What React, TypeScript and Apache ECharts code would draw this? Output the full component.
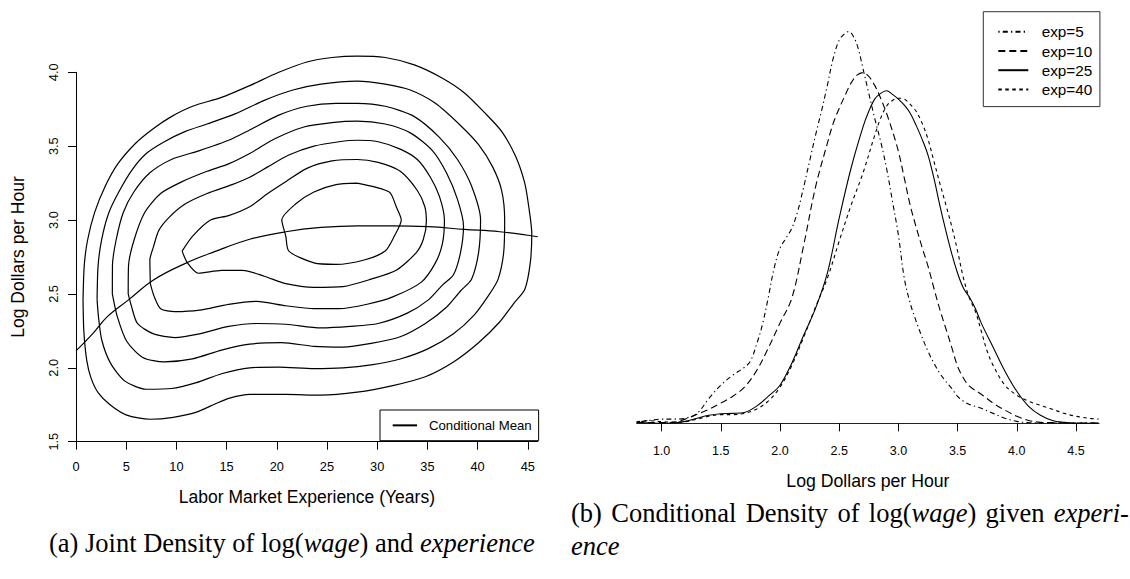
import React, { useEffect, useRef } from "react";
import * as echarts from "echarts";

// ---------- Left panel: joint density contours (experience, log wage) ----------
const contour1: number[][] = [
  [0.7, 2.46], [0.82, 2.69], [1.14, 2.86], [1.85, 3.05], [2.92, 3.23], [4.16, 3.38], [5.94, 3.52],
  [7.72, 3.62], [9.5, 3.7], [11.6, 3.77], [14.5, 3.83], [17.3, 3.91], [20.2, 4.0], [23.0, 4.07],
  [25.5, 4.1], [28.0, 4.11], [30.8, 4.1], [33.7, 4.05], [36.5, 3.96], [38.7, 3.86], [40.8, 3.72],
  [42.4, 3.6], [43.8, 3.43], [44.7, 3.25], [45.1, 3.09], [45.4, 2.91], [45.25, 2.71], [44.7, 2.53],
  [43.65, 2.44], [42.2, 2.31], [40.1, 2.17], [37.6, 2.04], [34.8, 1.94], [31.55, 1.88], [28.0, 1.835],
  [24.4, 1.815], [20.9, 1.82], [17.3, 1.82], [15.3, 1.795], [14.0, 1.76], [12.0, 1.7], [9.69, 1.665],
  [7.37, 1.652], [5.05, 1.68], [3.39, 1.75], [2.22, 1.83], [1.5, 1.93], [1.07, 2.05], [0.78, 2.25],
  [0.7, 2.46],
];
const contour2: number[][] = [
  [2.1, 2.46], [2.2, 2.69], [2.56, 2.87], [3.27, 3.05], [4.34, 3.2], [5.59, 3.34], [7.0, 3.45],
  [8.8, 3.53], [10.9, 3.6], [13.05, 3.65], [15.9, 3.72], [18.75, 3.81], [21.6, 3.88], [24.4, 3.92],
  [28.0, 3.94], [30.8, 3.92], [33.3, 3.88], [35.8, 3.79], [38.3, 3.64], [40.1, 3.51], [41.5, 3.36],
  [42.4, 3.2], [42.7, 3.0], [42.6, 2.78], [42.05, 2.6], [41.2, 2.5], [39.7, 2.36], [37.6, 2.23],
  [35.1, 2.13], [32.3, 2.06], [29.4, 2.02], [26.6, 2.0], [23.7, 1.995], [20.2, 2.005], [17.3, 2.0],
  [14.5, 1.96], [12.0, 1.9], [9.5, 1.86], [7.0, 1.855], [4.87, 1.91], [3.45, 2.03], [2.56, 2.19],
  [2.2, 2.37], [2.1, 2.46],
];
const contour3: number[][] = [
  [3.62, 2.5], [3.63, 2.69], [3.98, 2.86], [4.7, 3.05], [5.76, 3.19], [7.36, 3.32], [9.5, 3.41],
  [12.3, 3.47], [15.2, 3.54], [17.3, 3.61], [20.2, 3.71], [23.0, 3.77], [25.9, 3.79], [28.0, 3.79],
  [30.8, 3.77], [33.7, 3.7], [36.2, 3.56], [38.0, 3.41], [39.4, 3.23], [40.3, 3.0], [40.1, 2.78],
  [39.4, 2.6], [38.3, 2.52], [36.9, 2.41], [34.8, 2.3], [32.3, 2.21], [29.4, 2.165], [26.6, 2.14],
  [23.7, 2.145], [20.5, 2.17], [17.3, 2.16], [14.5, 2.12], [11.6, 2.06], [8.8, 2.04], [6.65, 2.07],
  [5.05, 2.18], [4.1, 2.35], [3.62, 2.5],
];
const contour4: number[][] = [
  [5.2, 2.5], [5.23, 2.69], [5.76, 2.86], [6.83, 3.05], [8.43, 3.18], [10.57, 3.26], [13.06, 3.33],
  [15.2, 3.38], [17.3, 3.45], [19.8, 3.55], [22.7, 3.63], [25.5, 3.66], [28.0, 3.67], [30.8, 3.65],
  [33.3, 3.59], [35.5, 3.47], [36.9, 3.32], [38.0, 3.14], [38.6, 2.96], [38.3, 2.78], [37.6, 2.63],
  [36.5, 2.56], [35.1, 2.46], [33.0, 2.37], [30.1, 2.3], [27.3, 2.28], [24.4, 2.27], [20.9, 2.295],
  [18.0, 2.3], [15.2, 2.28], [12.3, 2.23], [9.85, 2.205], [7.72, 2.23], [6.12, 2.3], [5.51, 2.42],
  [5.2, 2.5],
];
const contour5: number[][] = [
  [7.4, 2.57], [7.36, 2.73], [7.72, 2.82], [8.25, 2.93], [9.3, 3.02], [10.9, 3.11], [13.06, 3.18],
  [15.55, 3.24], [17.3, 3.29], [19.1, 3.36], [21.2, 3.44], [23.7, 3.5], [26.2, 3.53], [28.0, 3.54],
  [30.1, 3.53], [32.3, 3.48], [34.0, 3.41], [35.3, 3.29], [36.2, 3.16], [36.7, 3.0], [36.5, 2.84],
  [35.8, 2.71], [34.4, 2.58], [31.55, 2.48], [29.0, 2.43], [26.2, 2.4], [23.7, 2.4], [20.9, 2.42],
  [18.0, 2.45], [15.2, 2.43], [12.3, 2.39], [9.85, 2.38], [8.43, 2.4], [7.8, 2.48], [7.4, 2.57],
];
const contour6: number[][] = [
  [10.57, 2.79], [11.6, 2.89], [13.4, 3.0], [15.2, 3.03], [17.3, 3.09], [19.1, 3.18], [20.9, 3.26],
  [23.0, 3.35], [25.5, 3.4], [28.0, 3.41], [30.1, 3.39], [32.3, 3.33], [34.0, 3.2], [34.75, 3.09],
  [34.9, 2.99], [34.6, 2.87], [33.9, 2.78], [31.9, 2.66], [29.4, 2.6], [26.6, 2.55], [23.7, 2.545],
  [20.9, 2.57], [18.75, 2.62], [16.6, 2.66], [14.5, 2.66], [12.2, 2.64], [11.1, 2.71], [10.57, 2.79],
];
const contour7: number[][] = [
  [28.0, 3.25], [31.2, 3.19], [31.9, 3.09], [32.4, 3.0], [31.7, 2.89], [30.8, 2.79], [28.7, 2.73],
  [25.9, 2.7], [23.7, 2.71], [21.2, 2.79], [20.9, 2.89], [20.5, 3.0], [21.9, 3.11], [23.7, 3.19],
  [25.9, 3.24], [28.0, 3.25],
];
const contours = [contour1, contour2, contour3, contour4, contour5, contour6, contour7];

const meanExper = [0, 1.67, 3.1, 5.23, 7.72, 10.9, 13.8, 17.3, 20.9, 24.4, 28, 31.55, 35.1, 38.7, 42.2, 46];
const meanLogWage = [2.115, 2.232, 2.345, 2.46, 2.595, 2.707, 2.786, 2.87, 2.921, 2.95, 2.961, 2.961, 2.955, 2.937, 2.921, 2.887];

const expTicks = [0, 5, 10, 15, 20, 25, 30, 35, 40, 45];

// ---------- Right panel: conditional densities of log wage ----------
const densTicks = [1.0, 1.5, 2.0, 2.5, 3.0, 3.5, 4.0, 4.5];

const x5 = [0.79, 0.9, 1.0, 1.1, 1.2, 1.3, 1.4, 1.5, 1.6, 1.7, 1.75, 1.8, 1.85, 1.9, 1.95, 2.0, 2.05, 2.1, 2.15, 2.2, 2.25, 2.3, 2.35, 2.4, 2.45, 2.5, 2.55, 2.58, 2.62, 2.66, 2.7, 2.75, 2.8, 2.85, 2.9, 2.95, 3.0, 3.05, 3.1, 3.15, 3.2, 3.25, 3.3, 3.35, 3.4, 3.45, 3.5, 3.55, 3.6, 3.7, 3.8, 3.9, 4.0, 4.1, 4.3, 4.5, 4.69];
const d5 = [0.003, 0.009, 0.013, 0.013, 0.016, 0.031, 0.078, 0.119, 0.15, 0.175, 0.194, 0.244, 0.306, 0.391, 0.484, 0.547, 0.578, 0.609, 0.663, 0.738, 0.819, 0.9, 0.975, 1.056, 1.141, 1.197, 1.219, 1.224, 1.209, 1.172, 1.11, 1.031, 0.953, 0.881, 0.797, 0.694, 0.588, 0.453, 0.375, 0.319, 0.269, 0.225, 0.188, 0.156, 0.131, 0.109, 0.084, 0.069, 0.059, 0.047, 0.031, 0.016, 0.006, 0.002, 0.001, 0.001, 0.001];

const x10 = [0.79, 1.0, 1.1, 1.2, 1.3, 1.4, 1.5, 1.6, 1.7, 1.8, 1.9, 2.0, 2.1, 2.2, 2.3, 2.4, 2.45, 2.5, 2.55, 2.6, 2.65, 2.7, 2.75, 2.8, 2.85, 2.9, 2.95, 3.0, 3.05, 3.1, 3.15, 3.2, 3.25, 3.3, 3.35, 3.4, 3.45, 3.5, 3.55, 3.6, 3.7, 3.8, 3.9, 4.0, 4.1, 4.2, 4.3, 4.5, 4.69];
const d10 = [0.003, 0.002, 0.003, 0.013, 0.028, 0.044, 0.063, 0.084, 0.113, 0.163, 0.234, 0.313, 0.391, 0.556, 0.738, 0.875, 0.938, 0.984, 1.025, 1.063, 1.088, 1.096, 1.084, 1.056, 1.016, 0.969, 0.913, 0.85, 0.766, 0.681, 0.613, 0.55, 0.491, 0.422, 0.356, 0.297, 0.238, 0.178, 0.141, 0.116, 0.091, 0.063, 0.041, 0.022, 0.009, 0.003, 0.002, 0.001, 0.001];

const x25 = [0.79, 0.9, 1.0, 1.1, 1.2, 1.3, 1.4, 1.5, 1.6, 1.7, 1.8, 1.9, 2.0, 2.1, 2.2, 2.3, 2.4, 2.5, 2.6, 2.7, 2.75, 2.8, 2.85, 2.9, 2.95, 3.0, 3.05, 3.1, 3.15, 3.2, 3.25, 3.3, 3.35, 3.4, 3.45, 3.5, 3.55, 3.6, 3.65, 3.7, 3.8, 3.9, 4.0, 4.1, 4.2, 4.3, 4.4, 4.5, 4.69];
const d25 = [0.003, 0.001, 0.0, 0.001, 0.006, 0.016, 0.025, 0.03, 0.031, 0.034, 0.053, 0.084, 0.119, 0.188, 0.275, 0.359, 0.469, 0.641, 0.797, 0.925, 0.975, 1.013, 1.031, 1.039, 1.028, 1.013, 0.994, 0.969, 0.931, 0.888, 0.838, 0.766, 0.681, 0.603, 0.531, 0.469, 0.422, 0.394, 0.359, 0.313, 0.238, 0.163, 0.1, 0.053, 0.025, 0.009, 0.003, 0.0, 0.0];

const x40 = [0.79, 0.9, 1.0, 1.1, 1.2, 1.3, 1.4, 1.5, 1.6, 1.7, 1.8, 1.9, 2.0, 2.1, 2.2, 2.3, 2.4, 2.5, 2.6, 2.7, 2.8, 2.85, 2.9, 2.95, 3.0, 3.05, 3.1, 3.15, 3.2, 3.25, 3.3, 3.35, 3.4, 3.45, 3.5, 3.55, 3.6, 3.65, 3.7, 3.75, 3.8, 3.9, 4.0, 4.1, 4.2, 4.3, 4.4, 4.5, 4.6, 4.69];
const d40 = [0.005, 0.008, 0.005, 0.004, 0.005, 0.013, 0.022, 0.027, 0.027, 0.031, 0.044, 0.069, 0.113, 0.181, 0.269, 0.363, 0.453, 0.569, 0.681, 0.781, 0.9, 0.953, 0.991, 1.009, 1.016, 1.013, 0.997, 0.975, 0.938, 0.888, 0.819, 0.75, 0.684, 0.616, 0.538, 0.453, 0.391, 0.35, 0.288, 0.225, 0.181, 0.119, 0.088, 0.069, 0.056, 0.044, 0.031, 0.022, 0.016, 0.013];

const expNames = ["exp=5", "exp=10", "exp=25", "exp=40"];

const SANS = "'Liberation Sans', Arial, Helvetica, sans-serif";
const SERIF = "'Liberation Serif', 'Times New Roman', serif";

const zip = (xs: number[], ys: number[]) => xs.map((x, i) => [x, ys[i]]);

export default function App() {
  const ref = useRef<HTMLDivElement>(null);

  useEffect(() => {
    if (!ref.current) return;
    const chart = echarts.init(ref.current, undefined, { renderer: "svg" });

    const contourSeries = contours.map((c, i) => ({
      type: "line",
      name: "contour" + (i + 1),
      xAxisIndex: 0,
      yAxisIndex: 0,
      data: c,
      symbol: "none",
      smooth: 0.25,
      clip: false,
      silent: true,
      lineStyle: { color: "#000", width: 1.2 },
    }));

    const densStyles: any[] = [
      { x: x5, d: d5, type: [1.3, 3.2, 5, 3.2] },
      { x: x10, d: d10, type: [7, 4] },
      { x: x25, d: d25, type: "solid" },
      { x: x40, d: d40, type: [3.5, 3.5] },
    ];
    const densSeries = densStyles.map((s, i) => ({
      type: "line",
      name: expNames[i],
      xAxisIndex: 1,
      yAxisIndex: 1,
      data: zip(s.x, s.d),
      symbol: "none",
      smooth: 0.35,
      silent: true,
      color: "#000",
      lineStyle: { color: "#000", width: 1.1, type: s.type },
    }));

    const hiddenSymbol = {
      color: "rgba(0,0,0,0)",
      borderColor: "rgba(0,0,0,0)",
      borderWidth: 0,
      opacity: 0,
    };

    const serifRich = {
      n: { fontFamily: SERIF, fontSize: 26.5, fill: "#000" },
      i: { fontFamily: SERIF, fontSize: 26.5, fontStyle: "italic", fill: "#000" },
      s: { fontFamily: SERIF, fontSize: 26.5, fill: "#000", padding: [0, 2.7, 0, 0] },
    };

    const option: any = {
      animation: false,
      backgroundColor: "#fff",
      textStyle: { fontFamily: SANS, color: "#000" },
      grid: [
        { left: 76, top: 72.3, width: 461.8, height: 369.4, containLabel: false },
        { left: 636.7, top: 7.3, width: 462.4, height: 416, containLabel: false },
      ],
      xAxis: [
        {
          gridIndex: 0,
          type: "value",
          min: 0,
          max: 46,
          name: "Labor Market Experience (Years)",
          nameLocation: "middle",
          nameGap: 46,
          nameTextStyle: { fontFamily: SANS, fontSize: 17.5, color: "#000" },
          axisLine: { show: true, onZero: false, lineStyle: { color: "#000", width: 1 } },
          axisTick: { show: true, length: 8, customValues: expTicks, lineStyle: { color: "#000" } },
          axisLabel: { customValues: expTicks, margin: 18, fontFamily: SANS, fontSize: 12.8, color: "#000" },
          splitLine: { show: false },
        },
        {
          gridIndex: 1,
          type: "value",
          min: 0.79,
          max: 4.695,
          name: "Log Dollars per Hour",
          nameLocation: "middle",
          nameGap: 49,
          nameTextStyle: { fontFamily: SANS, fontSize: 17.7, color: "#000" },
          axisLine: { show: true, onZero: false, lineStyle: { color: "#222", width: 1 } },
          axisTick: { show: true, length: 8, customValues: densTicks, lineStyle: { color: "#000" } },
          axisLabel: {
            customValues: densTicks,
            margin: 21,
            fontFamily: SANS,
            fontSize: 12.5,
            color: "#000",
            formatter: (v: number) => v.toFixed(1),
          },
          splitLine: { show: false },
        },
      ],
      yAxis: [
        {
          gridIndex: 0,
          type: "value",
          min: 1.5,
          max: 4.0,
          interval: 0.5,
          name: "Log Dollars per Hour",
          nameLocation: "middle",
          nameGap: 49,
          nameTextStyle: { fontFamily: SANS, fontSize: 17.5, color: "#000" },
          axisLine: { show: true, onZero: false, lineStyle: { color: "#000", width: 1 } },
          axisTick: { show: true, length: 8, lineStyle: { color: "#000" } },
          axisLabel: {
            rotate: 90,
            margin: 16,
            fontFamily: SANS,
            fontSize: 12.8,
            color: "#000",
            formatter: (v: number) => v.toFixed(1),
          },
          splitLine: { show: false },
        },
        {
          gridIndex: 1,
          type: "value",
          min: 0,
          max: 1.3,
          show: false,
          splitLine: { show: false },
        },
      ],
      legend: [
        {
          data: ["Conditional Mean"],
          left: 380,
          top: 410,
          orient: "horizontal",
          itemWidth: 24.3,
          itemHeight: 14,
          padding: [8.85, 7, 8.85, 11.7],
          borderColor: "#000",
          borderWidth: 1,
          borderRadius: 0,
          backgroundColor: "#fff",
          selectedMode: false,
          itemStyle: hiddenSymbol,
          textStyle: { fontFamily: SANS, fontSize: 13.2, color: "#000", padding: [0, 0, 0, 7] },
        },
        {
          data: expNames,
          left: 983.3,
          top: 11.7,
          orient: "vertical",
          itemWidth: 30,
          itemHeight: 15,
          itemGap: 4.2,
          padding: [12.6, 7.6, 9.7, 14],
          borderColor: "#333",
          borderWidth: 1,
          borderRadius: 0,
          backgroundColor: "#fff",
          selectedMode: false,
          itemStyle: hiddenSymbol,
          textStyle: { fontFamily: SANS, fontSize: 15.3, color: "#000", padding: [0, 0, 0, 8.4] },
        },
      ],
      graphic: [
        {
          type: "text",
          x: 49,
          y: 543,
          style: {
            text: "{n|(a) Joint Density of log(}{i|wage}{n|) and }{i|experience}",
            verticalAlign: "middle",
            textVerticalAlign: "middle",
            rich: serifRich,
          },
        },
        {
          type: "text",
          x: 571,
          y: 513,
          style: {
            text: "{n|(b)}{s| }{n|Conditional}{s| }{n|Density}{s| }{n|of}{s| }{n|log(}{i|wage}{n|)}{s| }{n|given}{s| }{i|experi-}",
            verticalAlign: "middle",
            textVerticalAlign: "middle",
            rich: serifRich,
          },
        },
        {
          type: "text",
          x: 571,
          y: 546,
          style: {
            text: "{i|ence}",
            verticalAlign: "middle",
            textVerticalAlign: "middle",
            rich: serifRich,
          },
        },
      ],
      series: [
        ...contourSeries,
        {
          type: "line",
          name: "Conditional Mean",
          xAxisIndex: 0,
          yAxisIndex: 0,
          data: zip(meanExper, meanLogWage),
          symbol: "none",
          smooth: 0.4,
          silent: true,
          color: "#000",
          lineStyle: { color: "#000", width: 1.2 },
        },
        ...densSeries,
      ],
    };

    chart.setOption(option);
    return () => chart.dispose();
  }, []);

  return (
    <div
      ref={ref}
      style={{ position: "absolute", left: 0, top: 0, width: 1130, height: 579, background: "#fff" }}
    />
  );
}
